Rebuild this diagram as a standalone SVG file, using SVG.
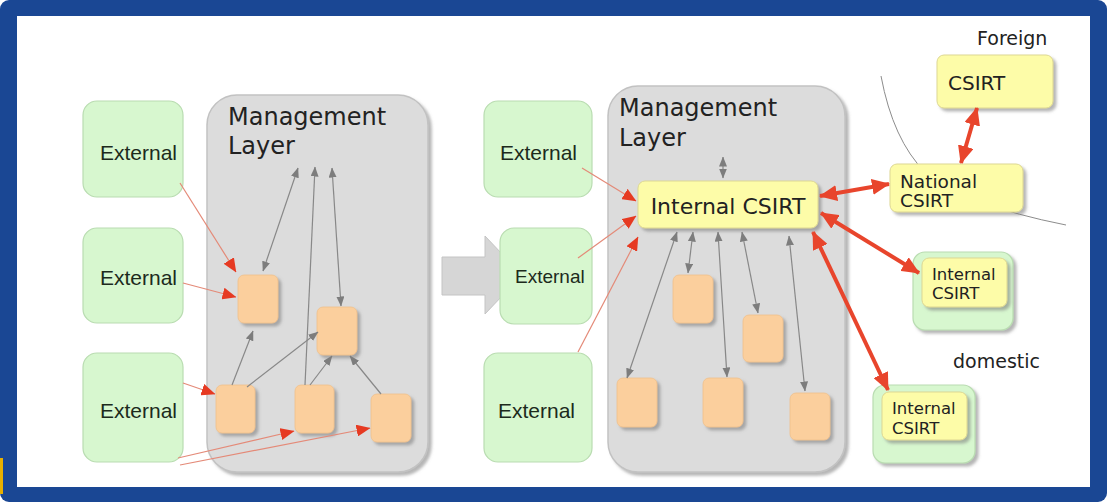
<svg xmlns="http://www.w3.org/2000/svg" width="1107" height="502" viewBox="0 0 1107 502">
<style>
.ext{fill:#d7f7cf;stroke:#b9dcb1;stroke-width:1.2}
.org{fill:#fbcf9d;stroke:#f0c08c;stroke-width:0.8}
.yel{fill:#fdfca8;stroke:#ddd793;stroke-width:1}
.mgmt{fill:#dcdcdc;stroke:#c2c2c2;stroke-width:1.5}
.te{font-family:"Liberation Sans",Arial,sans-serif;fill:#1c2a1c}
.tv{font-family:"DejaVu Sans",Verdana,sans-serif;fill:#222}
.g{stroke:#888;stroke-width:1.2;fill:none}
.rt{stroke:#e48a78;stroke-width:1.2;fill:none}
.rk{stroke:#e8452c;stroke-width:4;fill:none}
</style>
<defs>
<filter id="sh" x="-20%" y="-20%" width="150%" height="150%">
<feDropShadow dx="3" dy="3" stdDeviation="1.5" flood-color="#7a7a7a" flood-opacity="0.55"/>
</filter>
<marker id="ga" viewBox="0 0 10 8" markerWidth="10" markerHeight="8" refX="9.5" refY="4" orient="auto-start-reverse" markerUnits="userSpaceOnUse">
<path d="M0,0 L10,4 L0,8 z" fill="#7d7d7d"/>
</marker>
<marker id="ra" viewBox="0 0 14 12" markerWidth="14" markerHeight="12" refX="13.5" refY="6" orient="auto" markerUnits="userSpaceOnUse">
<path d="M0,0 L14,6 L0,12 z" fill="#e63a22"/>
</marker>
<marker id="rk" viewBox="0 0 18 16" markerWidth="18" markerHeight="16" refX="17" refY="8" orient="auto-start-reverse" markerUnits="userSpaceOnUse">
<path d="M0,0 L18,8 L0,16 z" fill="#e8452c"/>
</marker>
</defs>

<!-- frame -->
<rect x="0" y="0" width="1107" height="502" rx="9" fill="#1a4794"/>
<rect x="17" y="16" width="1073" height="471" fill="#ffffff"/>
<rect x="0" y="458" width="3" height="36" fill="#e8b000"/>

<!-- boundary curve -->
<path d="M881,76 Q893,140 925,172 Q965,205 1066,225" stroke="#8c8c8c" stroke-width="1" fill="none"/>

<!-- management layers -->
<g id="mgmt-left">
<rect class="mgmt" x="207" y="95" width="221" height="377" rx="30" filter="url(#sh)"/>
<text class="tv" x="228" y="125" font-size="24">Management</text>
<text class="tv" x="228" y="154" font-size="24">Layer</text>
</g>
<g id="mgmt-right">
<rect class="mgmt" x="608" y="86" width="237" height="386" rx="30" filter="url(#sh)"/>
<text class="tv" x="619" y="116" font-size="24">Management</text>
<text class="tv" x="619" y="146" font-size="24">Layer</text>
</g>

<!-- transition arrow -->
<g id="transition-arrow">
<polygon points="442,257 485,257 485,236 522,275 485,314 485,295 442,295" fill="#d6d6d6" stroke="#c4c4c4" stroke-width="1"/>
</g>

<!-- left externals -->
<g id="ext-l1"><rect class="ext" x="83" y="101" width="100" height="96" rx="14"/><text class="te" x="100" y="160" font-size="21">External</text></g>
<g id="ext-l2"><rect class="ext" x="83" y="228" width="100" height="95" rx="14"/><text class="te" x="100" y="285" font-size="21">External</text></g>
<g id="ext-l3"><rect class="ext" x="83" y="353" width="100" height="109" rx="14"/><text class="te" x="100" y="418" font-size="21">External</text></g>

<!-- left orange -->
<g id="l-a"><rect class="org" x="238" y="275" width="40" height="48" rx="6" filter="url(#sh)"/></g>
<g id="l-b"><rect class="org" x="317" y="307" width="40" height="48" rx="6" filter="url(#sh)"/></g>
<g id="l-c"><rect class="org" x="216" y="385" width="39" height="48" rx="6" filter="url(#sh)"/></g>
<g id="l-d"><rect class="org" x="295" y="385" width="39" height="48" rx="6" filter="url(#sh)"/></g>
<g id="l-e"><rect class="org" x="371" y="394" width="40" height="48" rx="6" filter="url(#sh)"/></g>

<!-- right externals -->
<g id="ext-r1"><rect class="ext" x="484" y="101" width="108" height="96" rx="14"/><text class="te" x="500" y="160" font-size="21">External</text></g>
<g id="ext-r2"><rect class="ext" x="500" y="228" width="92" height="96" rx="14"/><text class="te" x="515" y="283" font-size="19">External</text></g>
<g id="ext-r3"><rect class="ext" x="484" y="353" width="108" height="109" rx="14"/><text class="te" x="498" y="418" font-size="21">External</text></g>

<!-- internal CSIRT -->
<g id="internal-csirt"><rect class="yel" x="638" y="181" width="180" height="47" rx="7" filter="url(#sh)"/><text class="tv" x="728" y="214" font-size="22" text-anchor="middle">Internal CSIRT</text></g>

<!-- right orange -->
<g id="r-a"><rect class="org" x="673" y="275" width="40" height="48" rx="6" filter="url(#sh)"/></g>
<g id="r-b"><rect class="org" x="743" y="315" width="40" height="47" rx="6" filter="url(#sh)"/></g>
<g id="r-c"><rect class="org" x="617" y="378" width="40" height="49" rx="6" filter="url(#sh)"/></g>
<g id="r-d"><rect class="org" x="703" y="378" width="40" height="49" rx="6" filter="url(#sh)"/></g>
<g id="r-e"><rect class="org" x="790" y="393" width="40" height="47" rx="6" filter="url(#sh)"/></g>

<!-- outside CSIRTs -->
<text class="tv" x="977" y="45" font-size="19">Foreign</text>
<g id="foreign-csirt"><rect class="yel" x="937" y="55" width="116" height="53" rx="7" filter="url(#sh)"/><text class="tv" x="948" y="90" font-size="20">CSIRT</text></g>
<g id="national-csirt"><rect class="yel" x="890" y="164" width="133" height="48" rx="7" filter="url(#sh)"/><text class="tv" x="900" y="188" font-size="18.5">National</text><text class="tv" x="900" y="207" font-size="18.5">CSIRT</text></g>
<g id="domestic-1"><rect class="ext" x="913" y="252" width="100" height="78" rx="12" filter="url(#sh)"/><rect class="yel" x="922" y="258" width="85" height="49" rx="7" filter="url(#sh)"/><text class="tv" x="932" y="280" font-size="16.5">Internal</text><text class="tv" x="932" y="299" font-size="16.5">CSIRT</text></g>
<text class="tv" x="953" y="368" font-size="19">domestic</text>
<g id="domestic-2"><rect class="ext" x="873" y="385" width="102" height="78" rx="12" filter="url(#sh)"/><rect class="yel" x="882" y="392" width="85" height="48" rx="7" filter="url(#sh)"/><text class="tv" x="892" y="414" font-size="16.5">Internal</text><text class="tv" x="892" y="434" font-size="16.5">CSIRT</text></g>

<!-- connectors -->
<g id="connectors">
<!-- left gray -->
<line class="g" x1="298" y1="168" x2="263" y2="271" marker-start="url(#ga)" marker-end="url(#ga)"/>
<line class="g" x1="305" y1="385" x2="315" y2="167" marker-end="url(#ga)"/>
<line class="g" x1="332" y1="168" x2="341" y2="306" marker-start="url(#ga)" marker-end="url(#ga)"/>
<line class="g" x1="232" y1="385" x2="253" y2="331" marker-end="url(#ga)"/>
<line class="g" x1="247" y1="387" x2="318" y2="332" marker-end="url(#ga)"/>
<line class="g" x1="310" y1="385" x2="332" y2="356" marker-end="url(#ga)"/>
<line class="g" x1="381" y1="394" x2="350" y2="356" marker-end="url(#ga)"/>
<!-- left red thin -->
<line class="rt" x1="180" y1="183" x2="236" y2="272" marker-end="url(#ra)"/>
<line class="rt" x1="183" y1="283" x2="236" y2="297" marker-end="url(#ra)"/>
<line class="rt" x1="183" y1="383" x2="215" y2="394" marker-end="url(#ra)"/>
<line class="rt" x1="178" y1="458" x2="294" y2="431" marker-end="url(#ra)"/>
<line class="rt" x1="180" y1="465" x2="370" y2="428" marker-end="url(#ra)"/>
<!-- right gray -->
<line class="g" x1="723" y1="157" x2="723" y2="178" marker-start="url(#ga)" marker-end="url(#ga)"/>
<line class="g" x1="677" y1="232" x2="627" y2="378" marker-start="url(#ga)" marker-end="url(#ga)"/>
<line class="g" x1="693" y1="232" x2="688" y2="273" marker-start="url(#ga)" marker-end="url(#ga)"/>
<line class="g" x1="718" y1="232" x2="727" y2="377" marker-start="url(#ga)" marker-end="url(#ga)"/>
<line class="g" x1="742" y1="232" x2="758" y2="313" marker-start="url(#ga)" marker-end="url(#ga)"/>
<line class="g" x1="789" y1="236" x2="805" y2="391" marker-start="url(#ga)" marker-end="url(#ga)"/>
<!-- right red thin -->
<line class="rt" x1="582" y1="168" x2="636" y2="201" marker-end="url(#ra)"/>
<line class="rt" x1="578" y1="258" x2="636" y2="216" marker-end="url(#ra)"/>
<line class="rt" x1="578" y1="352" x2="638" y2="237" marker-end="url(#ra)"/>
<!-- thick red -->
<line class="rk" x1="820" y1="196" x2="889" y2="184" marker-start="url(#rk)" marker-end="url(#rk)"/>
<line class="rk" x1="821" y1="213" x2="919" y2="273" marker-start="url(#rk)" marker-end="url(#rk)"/>
<line class="rk" x1="813" y1="232" x2="888" y2="390" marker-start="url(#rk)" marker-end="url(#rk)"/>
<line class="rk" x1="961" y1="163" x2="977" y2="108" marker-start="url(#rk)" marker-end="url(#rk)"/>
</g>
</svg>
